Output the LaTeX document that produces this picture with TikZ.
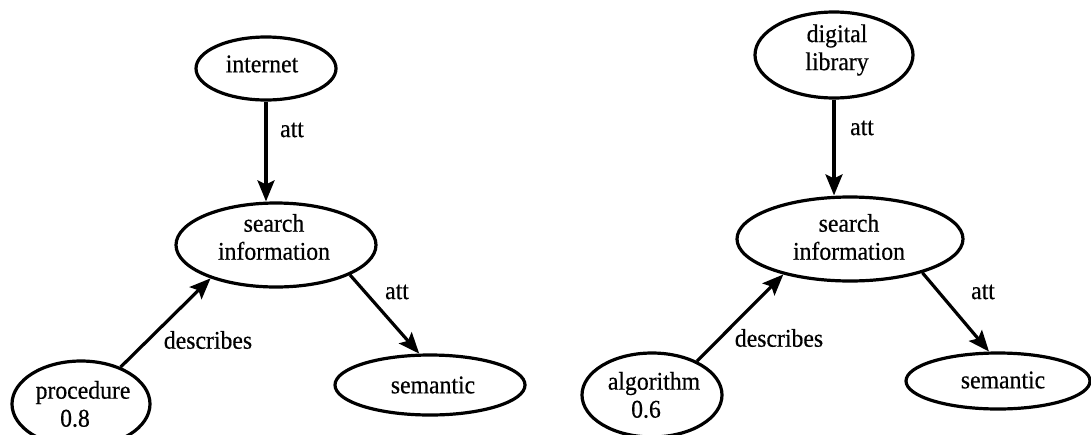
\documentclass[tikz,border=0pt]{standalone}
\usepackage{fontspec}
\setmainfont{Liberation Serif}[FakeStretch=0.93,FakeBold=0.5]
\usetikzlibrary{shapes.geometric,arrows.meta}
\begin{document}
\begin{tikzpicture}[x=1pt,y=-1pt,
  concept/.style={ellipse, draw, line width=3.2pt, inner sep=0pt},
  caption/.style={align=center, inner sep=0pt, font=\fontsize{25.5}{28}\selectfont},
  rel/.style={line width=3.2pt, -{Stealth[length=21pt,width=17pt,inset=4pt]}},
  lbl/.style={font=\fontsize{25.5}{28}\selectfont, inner sep=0pt}]
\useasboundingbox (0,0) rectangle (1091,434);
\clip (0,0) rectangle (1091,434);

% left graph: concept ellipses
\node[concept, minimum width=140pt, minimum height=63pt] (internet) at (266,68.5) {};
\node[concept, minimum width=200pt, minimum height=84pt] (searchL) at (276,245) {};
\node[concept, minimum width=190pt, minimum height=60pt] (semL) at (430,385) {};
\node[concept, minimum width=138pt, minimum height=86pt] (proc) at (81,404) {};

% left graph: concept names
\node[caption] (internetT) at (262,64) {internet};
\node[caption] (searchLT) at (274,237) {search\\information};
\node[caption] (semLT) at (433,385) {semantic};
\node[caption] (procT) at (83,404) {procedure\\\hspace*{-16pt}0.8};

\draw[rel] (internet.south) -- (internet.south |- searchL.north);
\draw[rel] (proc.43) -- (searchL.207);
\draw[rel] (searchL.338) -- (semL.109);

\node[lbl] (attL1) at (292,130) {att};
\node[lbl] (attL2) at (397,292) {att};
\node[lbl] (descL) at (208,340) {describes};

% right graph: concept ellipses
\node[concept, minimum width=158pt, minimum height=86pt] (digital) at (834,55) {};
\node[concept, minimum width=226pt, minimum height=84pt] (searchR) at (850,239) {};
\node[concept, minimum width=184pt, minimum height=56pt] (semR) at (998,381) {};
\node[concept, minimum width=140pt, minimum height=84pt] (algo) at (652,395) {};

% right graph: concept names
\node[caption] (digitalT) at (837,50) {digital\\library};
\node[caption] (searchRT) at (849,237) {search\\information};
\node[caption] (semRT) at (1003,380) {semantic};
\node[caption] (algoT) at (654,395) {algorithm\\\hspace*{-16pt}0.6};

\draw[rel] (digital.south) -- (digital.south |- searchR.north);
\draw[rel] (algo.37.5) -- (searchR.208);
\draw[rel] (searchR.335) -- (semR.107);

\node[lbl] (attR1) at (862,128) {att};
\node[lbl] (attR2) at (983,292) {att};
\node[lbl] (descR) at (779,338) {describes};
\end{tikzpicture}
\end{document}
